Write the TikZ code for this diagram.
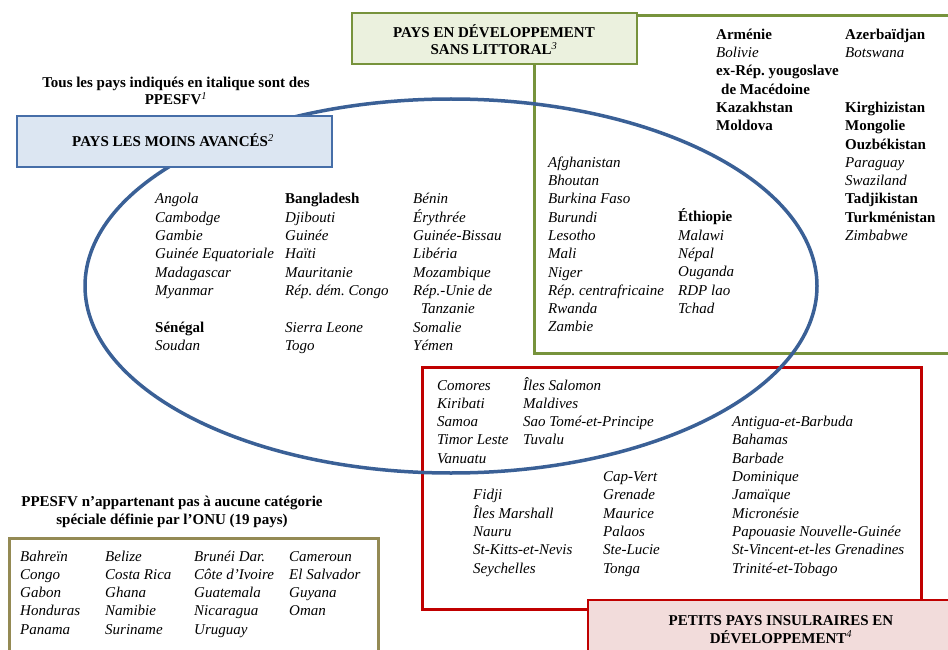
\documentclass[tikz,border=0pt]{standalone}
\usepackage{fontspec}
\setmainfont{Liberation Serif}
\frenchspacing
\definecolor{ellblue}{RGB}{58,96,150}
\definecolor{boxblue}{RGB}{70,110,168}
\definecolor{fillblue}{RGB}{220,230,242}
\definecolor{lgreen}{RGB}{119,147,60}
\definecolor{fillgreen}{RGB}{235,241,222}
\definecolor{lred}{RGB}{192,0,0}
\definecolor{fillpink}{RGB}{242,220,219}
\definecolor{olivebrd}{RGB}{148,138,84}
\newcommand\bfup[1]{\textbf{\upshape #1}}
\newcommand\supit[1]{\textsuperscript{\mdseries\itshape #1}}
\newcommand\colm[4]{\node[colst] (#3) at (#1,#2) {\begin{tabular}[t]{@{}l@{}}#4\end{tabular}};}
\newcommand\headm[4]{\node[headst] (#3) at (#1,#2) {\begin{tabular}[t]{@{}c@{}}#4\end{tabular}};}
\begin{document}
\frenchspacing
\begin{tikzpicture}[x=1pt,y=-1pt,
  colst/.style={anchor=base west, inner sep=0pt, font=\fontsize{15}{18.3}\selectfont\itshape\frenchspacing},
  headst/.style={anchor=base, inner sep=0pt, font=\fontsize{15}{17.3}\selectfont\bfseries\frenchspacing},
  greenline/.style={draw=lgreen, line width=3pt},
  redline/.style={draw=lred, line width=3pt},
  oliveline/.style={draw=olivebrd, line width=3pt},
  ellline/.style={draw=ellblue, line width=3.5pt},
  bluebox/.style={draw=boxblue, fill=fillblue, line width=2pt, minimum width=315pt, minimum height=51pt, inner sep=0pt},
  greenbox/.style={draw=lgreen, fill=fillgreen, line width=2.5pt, minimum width=285pt, minimum height=51pt, inner sep=0pt},
  pinkbox/.style={draw=lred, fill=fillpink, line width=2.5pt, minimum width=380pt, minimum height=80pt, inner sep=0pt}
]
\useasboundingbox (0,0) rectangle (948,650);
\clip (0,0) rectangle (948,650);

% region outlines
\draw[greenline] (534,16) rectangle (990,353);
\draw[redline] (422,367) rectangle (921,609);
\draw[oliveline] (9,538) rectangle (378,690);
\draw[ellline] (451,286) ellipse [x radius=366pt, y radius=187pt];

% label boxes
\node[greenbox] (lldcbox) at (494.5,38.5) {};
\node[bluebox] (ldcbox) at (174.5,141.5) {};
\node[pinkbox] (sidsbox) at (778,640) {};

% headings
\headm{494}{37.3}{lldctitle}{PAYS EN DÉVELOPPEMENT\\SANS LITTORAL\supit{3}}
\headm{173}{146.7}{ldctitle}{PAYS LES MOINS AVANCÉS\supit{2}}
\headm{781}{625}{sidstitle}{PETITS PAYS INSULRAIRES EN\\DÉVELOPPEMENT\supit{4}}
\headm{176}{87.3}{note}{Tous les pays indiqués en italique sont des\\PPESFV\supit{1}}
\headm{172}{506.7}{othertitle}{PPESFV n’appartenant pas à aucune catégorie\\spéciale définie par l’ONU (19 pays)}

% LDC only
\colm{155}{204}{ldcA}{Angola\\Cambodge\\Gambie\\Guinée Equatoriale\\Madagascar\\Myanmar\\ \\\bfup{Sénégal}\\Soudan}
\colm{285}{204}{ldcB}{\bfup{Bangladesh}\\Djibouti\\Guinée\\Haïti\\Mauritanie\\Rép. dém. Congo\\ \\Sierra Leone\\Togo}
\colm{413}{204}{ldcC}{Bénin\\Érythrée\\Guinée-Bissau\\Libéria\\Mozambique\\Rép.-Unie de\\\hspace{8pt}Tanzanie\\Somalie\\Yémen}

% LDC and LLDC
\colm{548}{167.3}{bothA}{Afghanistan\\Bhoutan\\Burkina Faso\\Burundi\\Lesotho\\Mali\\Niger\\Rép. centrafricaine\\Rwanda\\Zambie}
\colm{678}{221.9}{bothB}{\bfup{Éthiopie}\\Malawi\\Népal\\Ouganda\\RDP lao\\Tchad}

% LLDC only
\colm{716}{39.3}{lldcA}{\bfup{Arménie}\\Bolivie\\\bfup{ex-Rép. yougoslave}\\\bfup{\hspace{5pt}de Macédoine}\\\bfup{Kazakhstan}\\\bfup{Moldova}}
\colm{845}{39.3}{lldcB}{\bfup{Azerbaïdjan}\\Botswana\\ \\ \\\bfup{Kirghizistan}\\\bfup{Mongolie}\\\bfup{Ouzbékistan}\\Paraguay\\Swaziland\\\bfup{Tadjikistan}\\\bfup{Turkménistan}\\Zimbabwe}

% SIDS
\colm{437}{390}{sidsA}{Comores\\Kiribati\\Samoa\\Timor Leste\\Vanuatu}
\colm{523}{390}{sidsB}{Îles Salomon\\Maldives\\Sao Tomé-et-Principe\\Tuvalu}
\colm{473}{499.8}{sidsC}{Fidji\\Îles Marshall\\Nauru\\St-Kitts-et-Nevis\\Seychelles}
\colm{603}{481.5}{sidsD}{Cap-Vert\\Grenade\\Maurice\\Palaos\\Ste-Lucie\\Tonga}
\colm{732}{426.6}{sidsE}{Antigua-et-Barbuda\\Bahamas\\Barbade\\Dominique\\Jamaïque\\Micronésie\\Papouasie Nouvelle-Guinée\\St-Vincent-et-les Grenadines\\Trinité-et-Tobago}

% other SVEs
\colm{20}{561}{othA}{Bahreïn\\Congo\\Gabon\\Honduras\\Panama}
\colm{105}{561}{othB}{Belize\\Costa Rica\\Ghana\\Namibie\\Suriname}
\colm{194}{561}{othC}{Brunéi Dar.\\Côte d’Ivoire\\Guatemala\\Nicaragua\\Uruguay}
\colm{289}{561}{othD}{Cameroun\\El Salvador\\Guyana\\Oman}
\end{tikzpicture}
\end{document}
